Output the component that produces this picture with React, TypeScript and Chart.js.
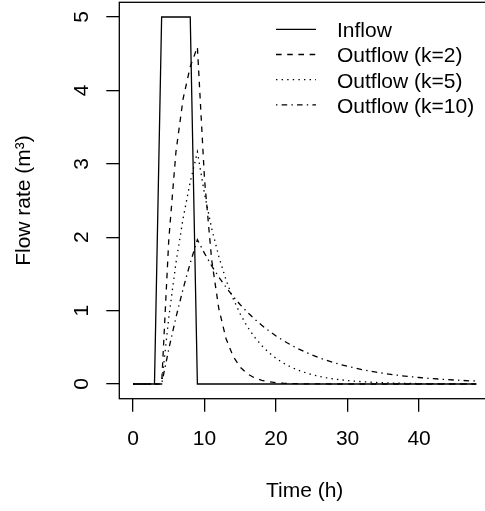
import React, { useEffect, useRef } from 'react';
import { Chart, registerables } from 'chart.js';

Chart.register(...registerables);

const TIME = [0, 1, 2, 3, 4, 5, 6, 7, 8, 9, 10, 11, 12, 13, 14, 15, 16, 17, 18, 19, 20, 21, 22, 23, 24, 25, 26, 27, 28, 29, 30, 31, 32, 33, 34, 35, 36, 37, 38, 39, 40, 41, 42, 43, 44, 45, 46, 47, 48];

const INFLOW = [0, 0, 0, 0, 5, 5, 5, 5, 5, 0, 0, 0, 0, 0, 0, 0, 0, 0, 0, 0, 0, 0, 0, 0, 0, 0, 0, 0, 0, 0, 0, 0, 0, 0, 0, 0, 0, 0, 0, 0, 0, 0, 0, 0, 0, 0, 0, 0, 0];

const OUT_K2 = [0, 0, 0, 0, 0, 1.967, 3.161, 3.884, 4.323, 4.59, 2.784, 1.689, 1.024, 0.621, 0.377, 0.229, 0.139, 0.084, 0.051, 0.031, 0.019, 0.011, 0.007, 0.004, 0.003, 0.002, 0.001, 0.001, 0, 0, 0, 0, 0, 0, 0, 0, 0, 0, 0, 0, 0, 0, 0, 0, 0, 0, 0, 0, 0];

const OUT_K5 = [0, 0, 0, 0, 0, 0.906, 1.648, 2.256, 2.753, 3.161, 2.588, 2.119, 1.735, 1.42, 1.163, 0.952, 0.779, 0.638, 0.523, 0.428, 0.35, 0.287, 0.235, 0.192, 0.157, 0.129, 0.105, 0.086, 0.071, 0.058, 0.047, 0.039, 0.032, 0.026, 0.021, 0.017, 0.014, 0.012, 0.01, 0.008, 0.006, 0.005, 0.004, 0.004, 0.003, 0.002, 0.002, 0.002, 0.001];

const OUT_K10 = [0, 0, 0, 0, 0, 0.476, 0.906, 1.296, 1.648, 1.967, 1.78, 1.61, 1.457, 1.319, 1.193, 1.08, 0.977, 0.884, 0.8, 0.724, 0.655, 0.592, 0.536, 0.485, 0.439, 0.397, 0.359, 0.325, 0.294, 0.266, 0.241, 0.218, 0.197, 0.178, 0.161, 0.146, 0.132, 0.12, 0.108, 0.098, 0.089, 0.08, 0.073, 0.066, 0.059, 0.054, 0.049, 0.044, 0.04];

const SERIES_LABELS = ['Inflow', 'Outflow (k=2)', 'Outflow (k=5)', 'Outflow (k=10)'];
const X_TICKS = [0, 10, 20, 30, 40];
const Y_TICKS = [0, 1, 2, 3, 4, 5];
const X_TITLE = 'Time (h)';
const Y_TITLE = 'Flow rate (m\u00B3)';

const FONT = 'Liberation Sans, Arial, Helvetica, sans-serif';
const FS = 21;
const LW = 1.3;

const boxPlugin = {
  id: 'rbox',
  afterDraw(chart: any) {
    const { ctx, chartArea } = chart;
    ctx.save();
    ctx.strokeStyle = '#000';
    ctx.lineWidth = LW;
    ctx.setLineDash([]);
    ctx.strokeRect(chartArea.left, chartArea.top, chartArea.right - chartArea.left, chartArea.bottom - chartArea.top);
    ctx.restore();
  },
};

const legendPlugin = {
  id: 'rlegend',
  afterDraw(chart: any) {
    const { ctx } = chart;
    const x0 = 276;
    const x1 = 316;
    const xt = 337;
    const y0 = 29.3;
    const dy = 25.2;
    ctx.save();
    chart.data.datasets.forEach((ds: any, i: number) => {
      const y = y0 + i * dy;
      ctx.strokeStyle = ds.borderColor;
      ctx.lineWidth = ds.borderWidth;
      ctx.setLineDash(ds.borderDash || []);
      ctx.beginPath();
      ctx.moveTo(x0, y);
      ctx.lineTo(x1, y);
      ctx.stroke();
      ctx.setLineDash([]);
      ctx.fillStyle = '#000';
      ctx.font = `${FS}px ${FONT}`;
      ctx.textAlign = 'left';
      ctx.textBaseline = 'alphabetic';
      ctx.fillText(ds.label, xt, y + 7.8);
    });
    ctx.restore();
  },
};

export default function App() {
  const ref = useRef<HTMLCanvasElement | null>(null);

  useEffect(() => {
    if (!ref.current) return;
    const mk = (vals: number[]) => TIME.map((t, i) => ({ x: t, y: vals[i] }));
    const base = { borderColor: '#000', borderWidth: LW, pointRadius: 0, tension: 0, fill: false };
    const chart = new Chart(ref.current, {
      type: 'line',
      data: {
        datasets: [
          { ...base, label: SERIES_LABELS[0], data: mk(INFLOW), borderDash: [] },
          { ...base, label: SERIES_LABELS[1], data: mk(OUT_K2), borderDash: [5.6, 5.6] },
          { ...base, label: SERIES_LABELS[2], data: mk(OUT_K5), borderDash: [1.4, 4.2] },
          { ...base, label: SERIES_LABELS[3], data: mk(OUT_K10), borderDash: [1.4, 4.2, 5.6, 4.2] },
        ],
      },
      options: {
        animation: false,
        responsive: false,
        devicePixelRatio: 1,
        layout: { padding: { top: 2.3, right: 10, left: 0, bottom: 0 } },
        plugins: { legend: { display: false }, tooltip: { enabled: false } },
        scales: {
          x: {
            type: 'linear',
            min: -1.92,
            max: 49.92,
            afterBuildTicks: (s: any) => {
              s.ticks = X_TICKS.map((v) => ({ value: v }));
            },
            afterFit: (s: any) => {
              s.height = 112.3;
              s.paddingLeft = 0;
              s.paddingRight = 0;
            },
            grid: { drawOnChartArea: false, drawTicks: true, tickLength: 13, color: '#000', lineWidth: LW },
            border: { display: false },
            ticks: { color: '#000', font: { family: FONT, size: FS }, padding: 15.4, maxRotation: 0, autoSkip: false },
            title: { display: true, text: X_TITLE, color: '#000', font: { family: FONT, size: FS }, padding: { top: 0, bottom: 7.4 } },
          },
          y: {
            type: 'linear',
            min: -0.2,
            max: 5.2,
            afterBuildTicks: (s: any) => {
              s.ticks = Y_TICKS.map((v) => ({ value: v }));
            },
            afterFit: (s: any) => {
              s.width = 119.3;
              s.paddingTop = 0;
              s.paddingBottom = 0;
            },
            grid: { drawOnChartArea: false, drawTicks: true, tickLength: 13, color: '#000', lineWidth: LW },
            border: { display: false },
            ticks: { color: '#000', font: { family: FONT, size: FS }, padding: 18.4, minRotation: 90, maxRotation: 90, crossAlign: 'center', autoSkip: false },
            title: { display: true, text: Y_TITLE, color: '#000', font: { family: FONT, size: FS }, padding: { top: 11.8, bottom: 0 } },
          },
        },
      } as any,
      plugins: [boxPlugin, legendPlugin],
    });
    return () => chart.destroy();
  }, []);

  return (
    <div style={{ position: 'fixed', left: 0, top: 0, width: 485, height: 511, overflow: 'hidden', background: '#fff' }}>
      <canvas ref={ref} width={500} height={511} style={{ display: 'block' }} />
    </div>
  );
}
